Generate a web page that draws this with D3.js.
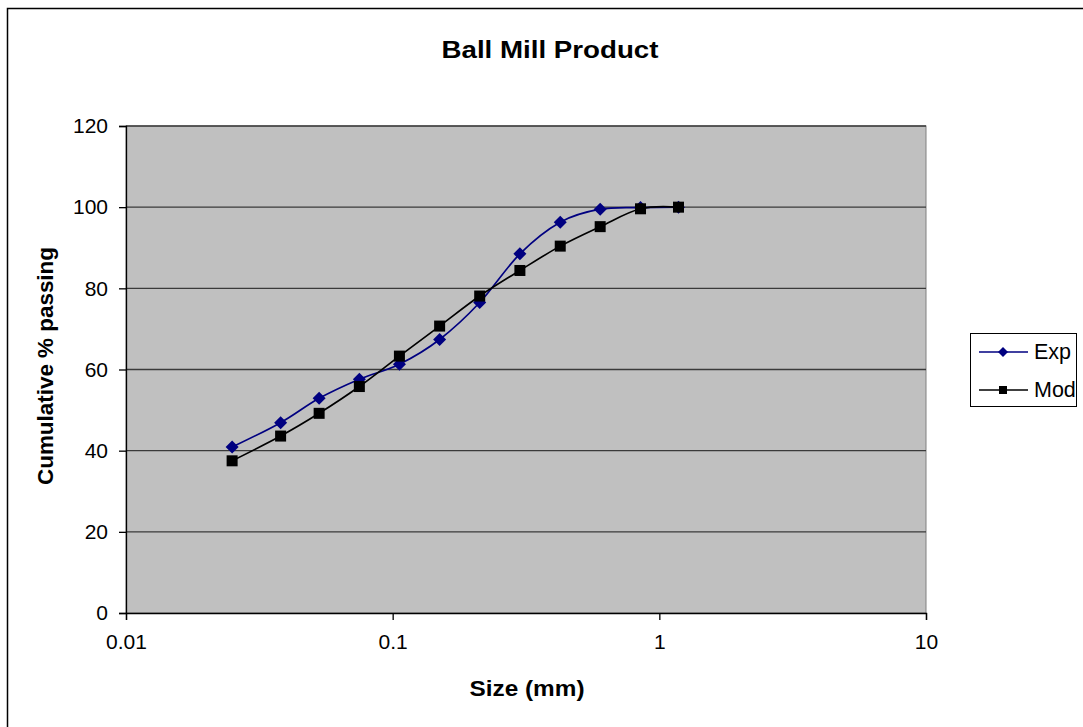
<!DOCTYPE html>
<html><head><meta charset="utf-8">
<script src="https://cdn.jsdelivr.net/npm/d3@7"></script>
<style>body{margin:0;background:#fff}svg{display:block}text{font-family:"Liberation Sans",Arial,sans-serif}</style>
</head><body>
<script>
const sizes = [0.025, 0.038, 0.053, 0.075, 0.106, 0.15, 0.212, 0.3, 0.425, 0.6, 0.85, 1.18];
const expValues = [40.9, 46.9, 52.9, 57.6, 61.3, 67.4, 76.5, 88.5, 96.3, 99.5, 99.9, 100];
const modValues = [37.5, 43.6, 49.2, 55.8, 63.3, 70.7, 78.1, 84.4, 90.4, 95.2, 99.6, 100];
const xTicks = [0.01, 0.1, 1, 10];
const xTickLabels = ["0.01", "0.1", "1", "10"];
const yTicks = [0, 20, 40, 60, 80, 100, 120];
const seriesNames = ["Exp", "Mod"];
const title = "Ball Mill Product";
const xTitle = "Size (mm)";
const yTitle = "Cumulative % passing";

const W = 1083, H = 727;
const L = 126, R = 926, T = 126, B = 613;
const svg = d3.select("body").append("svg").attr("width", W).attr("height", H);

svg.append("rect").attr("x", 7.5).attr("y", 8.5).attr("width", 3000).attr("height", 3000)
  .attr("fill", "#fff").attr("stroke", "#000").attr("stroke-width", 1.5);

const x = d3.scaleLog().domain([0.01, 10]).range([L, R]);
const y = d3.scaleLinear().domain([0, 120]).range([B, T]);

svg.append("rect").attr("x", L).attr("y", T).attr("width", R - L).attr("height", B - T)
  .attr("fill", "#c0c0c0").attr("stroke", "#808080").attr("stroke-width", 1);

// gridlines
svg.append("g").selectAll("line").data(yTicks.filter(d => d > 0)).join("line")
  .attr("x1", L).attr("x2", R).attr("y1", d => y(d)).attr("y2", d => y(d))
  .attr("stroke", "#3a3a3a").attr("stroke-width", 1.3);

// y axis
const yAxis = svg.append("g").attr("transform", `translate(${L},0)`)
  .call(d3.axisLeft(y).tickValues(yTicks).tickSize(7).tickPadding(11).tickFormat(d3.format("d")));
yAxis.select(".domain").attr("stroke", "#000").attr("stroke-width", 1.3);
yAxis.selectAll(".tick line").attr("stroke", "#000").attr("stroke-width", 1.3);
yAxis.selectAll("text").attr("font-size", 21).attr("fill", "#000").attr("font-family", "Liberation Sans, Arial, sans-serif");

// x axis
const xAxis = svg.append("g").attr("transform", `translate(0,${B})`)
  .call(d3.axisBottom(x).tickValues(xTicks).tickSize(7).tickPadding(14).tickFormat((d, i) => xTickLabels[i]));
xAxis.select(".domain").attr("stroke", "#000").attr("stroke-width", 1.3);
xAxis.selectAll(".tick line").attr("stroke", "#000").attr("stroke-width", 1.3);
xAxis.selectAll("text").attr("font-size", 21).attr("fill", "#000").attr("font-family", "Liberation Sans, Arial, sans-serif");

const line = d3.line().curve(d3.curveCardinal.tension(0)).x(d => x(d[0])).y(d => y(d[1]));
const expData = sizes.map((s, i) => [s, expValues[i]]);
const modData = sizes.map((s, i) => [s, modValues[i]]);

const diamond = (cx, cy, r) => `M${cx},${cy - r}L${cx + r},${cy}L${cx},${cy + r}L${cx - r},${cy}Z`;

svg.append("path").attr("d", line(expData)).attr("fill", "none").attr("stroke", "#000080").attr("stroke-width", 1.7);
svg.append("g").selectAll("path").data(expData).join("path")
  .attr("d", d => diamond(x(d[0]), y(d[1]), 6.5)).attr("fill", "#000080");

svg.append("path").attr("d", line(modData)).attr("fill", "none").attr("stroke", "#000").attr("stroke-width", 1.7);
svg.append("g").selectAll("rect").data(modData).join("rect")
  .attr("x", d => x(d[0]) - 5.5).attr("y", d => y(d[1]) - 5.5).attr("width", 11).attr("height", 11).attr("fill", "#000");

// titles
svg.append("text").attr("x", 550).attr("y", 58).attr("text-anchor", "middle")
  .attr("font-size", 23).attr("font-weight", "bold").attr("textLength", 217).attr("lengthAdjust", "spacingAndGlyphs").text(title);
svg.append("text").attr("x", (L + R) / 2 + 1).attr("y", 696).attr("text-anchor", "middle")
  .attr("font-size", 22).attr("font-weight", "bold").attr("textLength", 115).attr("lengthAdjust", "spacingAndGlyphs").text(xTitle);
svg.append("text").attr("transform", `translate(53,366) rotate(-90)`).attr("text-anchor", "middle")
  .attr("font-size", 22).attr("font-weight", "bold").attr("textLength", 238).attr("lengthAdjust", "spacingAndGlyphs").text(yTitle);

// legend
const lg = svg.append("g");
lg.append("rect").attr("x", 970.5).attr("y", 333.5).attr("width", 106).attr("height", 73)
  .attr("fill", "#fff").attr("stroke", "#000").attr("stroke-width", 1);
const rows = [352, 390];
const colors = ["#000080", "#000"];
seriesNames.forEach((n, i) => {
  lg.append("line").attr("x1", 979).attr("x2", 1028).attr("y1", rows[i]).attr("y2", rows[i])
    .attr("stroke", colors[i]).attr("stroke-width", 1.6);
  if (i === 0) lg.append("path").attr("d", diamond(1003, rows[i], 5)).attr("fill", colors[i]);
  else lg.append("rect").attr("x", 999).attr("y", rows[i] - 4).attr("width", 8).attr("height", 8).attr("fill", colors[i]);
  lg.append("text").attr("x", 1034).attr("y", rows[i] + 7).attr("font-size", 21.5).text(n);
});
</script>
</body></html>
